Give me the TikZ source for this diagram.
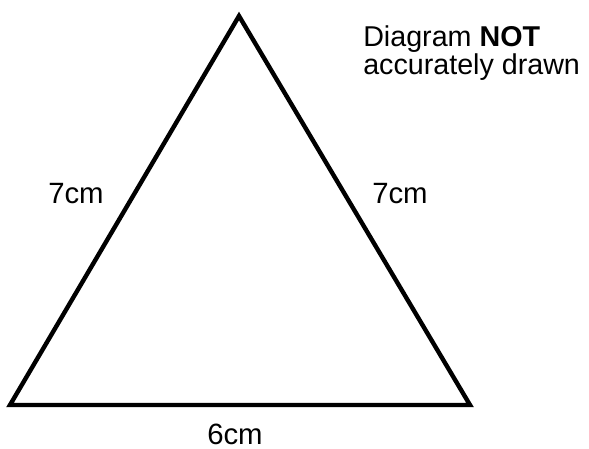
\documentclass[tikz,border=0pt]{standalone}
\usepackage{fontspec}
\setmainfont{Liberation Sans}
\usetikzlibrary{positioning}
\tikzset{
  side/.style={line width=3.3pt},
  lbl/.style={font=\fontsize{22}{22}\selectfont, inner sep=0pt, text depth=0pt, anchor=base west},
  note/.style={font=\fontsize{21.5}{21.5}\selectfont, inner sep=0pt, anchor=north west, align=left},
}
\begin{document}
\begin{tikzpicture}[x=0.75pt,y=-0.75pt]
\useasboundingbox (0,0) rectangle (589,449);
\coordinate (top) at (239,16);
\coordinate (bl) at (10,405);
\coordinate (br) at (470,405);
\draw[side] (top) -- (br) -- (bl) -- cycle;
\node[lbl] (left) at (48,204) {7cm};
\node[lbl] (right) at (372,204) {7cm};
\node[lbl] (base) at (207,444) {6cm};
\node[note] (warn) at (363,25) {Diagram \textbf{NOT}\\accurately drawn};
\end{tikzpicture}
\end{document}
